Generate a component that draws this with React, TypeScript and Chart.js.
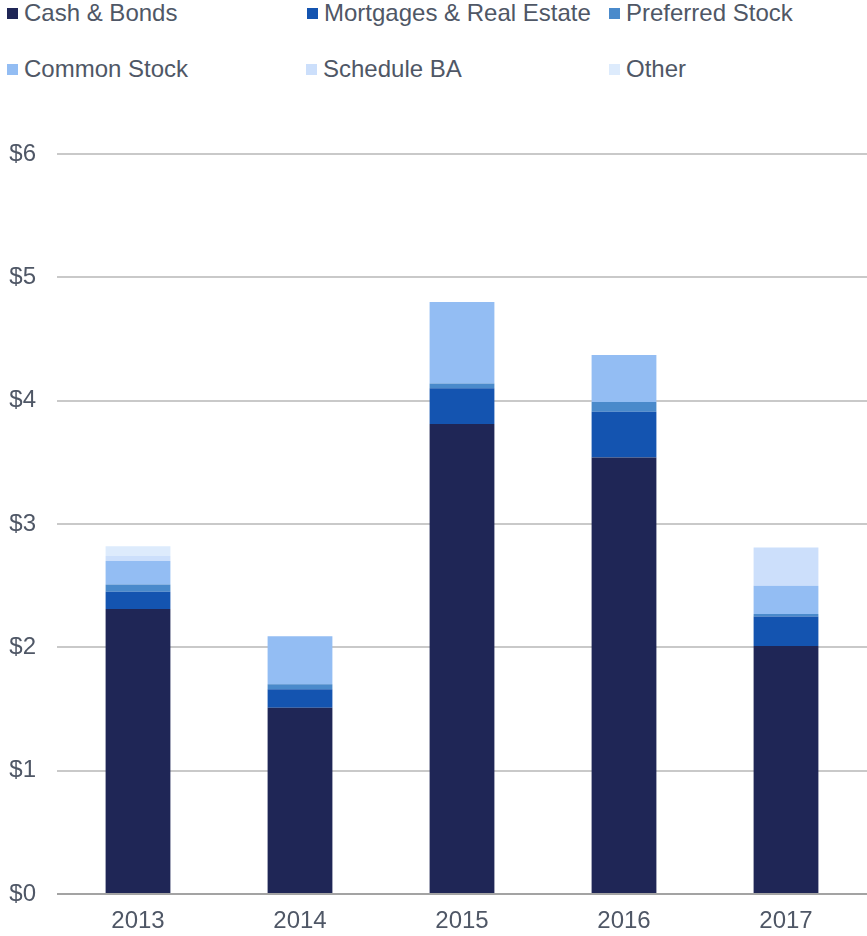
import React, { useEffect, useRef } from "react";
import { Chart, registerables } from "chart.js";

Chart.register(...registerables);

const years = ["2013", "2014", "2015", "2016", "2017"];
const cashBonds = [2.31, 1.51, 3.81, 3.54, 2.01];
const mortgagesRealEstate = [0.14, 0.15, 0.29, 0.37, 0.24];
const preferredStock = [0.06, 0.04, 0.04, 0.08, 0.02];
const commonStock = [0.19, 0.39, 0.66, 0.38, 0.23];
const scheduleBA = [0.04, 0, 0, 0, 0.31];
const other = [0.08, 0, 0, 0, 0];

const seriesNames = [
  "Cash & Bonds",
  "Mortgages & Real Estate",
  "Preferred Stock",
  "Common Stock",
  "Schedule BA",
  "Other",
];
const seriesValues = [cashBonds, mortgagesRealEstate, preferredStock, commonStock, scheduleBA, other];
const seriesColors = ["#1F2656", "#1454B0", "#4A8ACB", "#93BDF3", "#CCDFFB", "#DDEBFC"];

const yTicks = [0, 1, 2, 3, 4, 5, 6];

const FONT = "'Liberation Sans', Arial, sans-serif";
const TEXT = "#4F5766";

const legendPos = [
  { x: 7, y: 0 },
  { x: 307, y: 0 },
  { x: 609, y: 0 },
  { x: 7, y: 56 },
  { x: 306, y: 56 },
  { x: 609, y: 56 },
];

export default function App() {
  const ref = useRef<HTMLCanvasElement | null>(null);

  useEffect(() => {
    if (!ref.current) return;
    const chart = new Chart(ref.current, {
      type: "bar",
      data: {
        labels: years,
        datasets: seriesNames.map((name, i) => ({
          label: name,
          data: seriesValues[i],
          backgroundColor: seriesColors[i],
          borderWidth: 0,
          barPercentage: 1,
          categoryPercentage: 0.4,
        })),
      },
      options: {
        responsive: false,
        animation: false,
        devicePixelRatio: 1,
        layout: { padding: { top: 154, right: 0, left: 0, bottom: 0 } },
        plugins: {
          legend: { display: false },
          tooltip: { enabled: false },
        },
        scales: {
          x: {
            stacked: true,
            grid: { display: false, drawTicks: false },
            border: { display: false },
            ticks: {
              color: TEXT,
              font: { family: FONT, size: 24 },
              padding: 13,
              maxRotation: 0,
            },
            afterFit: (s: any) => {
              s.height = 42;
            },
          },
          y: {
            stacked: true,
            min: 0,
            max: 6,
            afterBuildTicks: (s: any) => {
              s.ticks = yTicks.map((v) => ({ value: v }));
            },
            grid: {
              drawTicks: false,
              lineWidth: 2,
              color: (ctx: any) => (ctx.tick && ctx.tick.value === 0 ? "#A3A3A3" : "#C9C9C9"),
            },
            border: { display: false },
            ticks: {
              color: TEXT,
              font: { family: FONT, size: 24 },
              padding: 21,
              callback: (v: any) => "$" + v,
            },
            afterFit: (s: any) => {
              s.width = 57;
            },
          },
        },
      },
    });
    return () => chart.destroy();
  }, []);

  return (
    <div style={{ position: "absolute", left: 0, top: 0, width: 867, height: 936, background: "#fff" }}>
      {seriesNames.map((name, i) => (
        <div
          key={name}
          style={{
            position: "absolute",
            left: legendPos[i].x,
            top: legendPos[i].y,
            height: 26,
            display: "flex",
            alignItems: "center",
            fontFamily: FONT,
            fontSize: 24,
            color: TEXT,
            whiteSpace: "nowrap",
          }}
        >
          <span
            style={{
              display: "inline-block",
              width: 11,
              height: 11,
              background: seriesColors[i],
              marginRight: 6,
            }}
          />
          <span>{name}</span>
        </div>
      ))}
      <canvas ref={ref} width={867} height={936} style={{ position: "absolute", left: 0, top: 0, width: 867, height: 936 }} />
    </div>
  );
}
